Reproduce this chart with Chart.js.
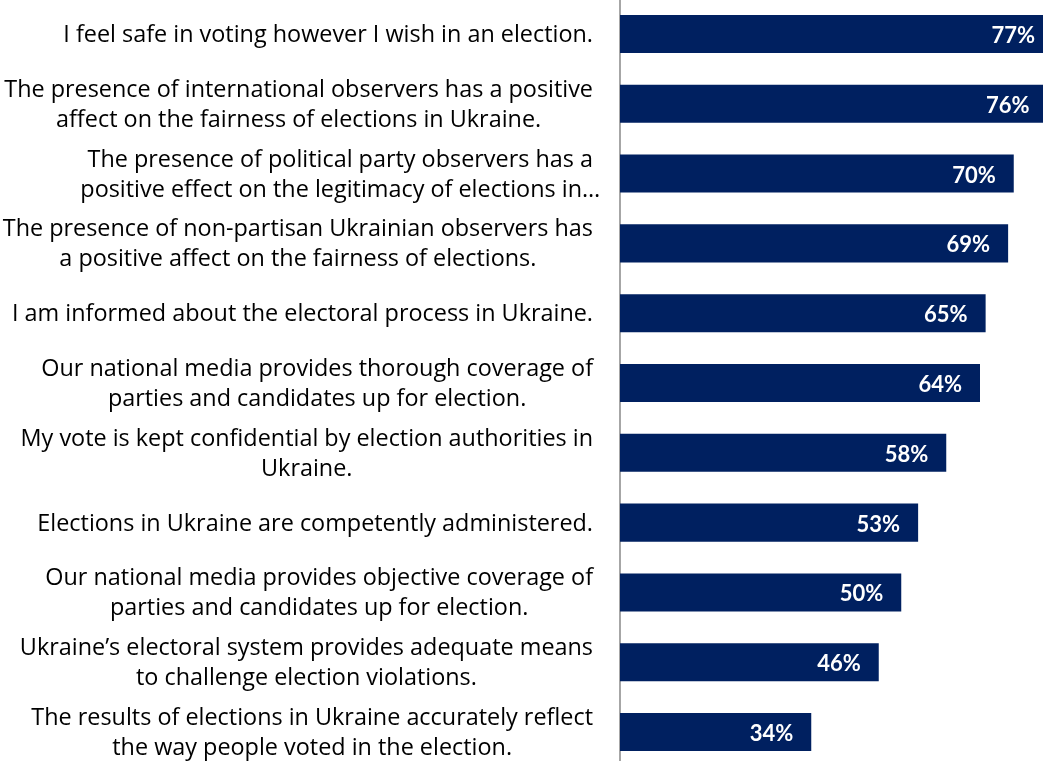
<!DOCTYPE html>
<html>
<head>
<meta charset="utf-8">
<title>Election attitudes</title>
<script src="https://cdn.jsdelivr.net/npm/chart.js@4.4.1/dist/chart.umd.min.js"></script>
<style>
  html, body { margin: 0; padding: 0; background: #fff; overflow: hidden; }
  #wrap { position: relative; width: 1043px; height: 761px; overflow: hidden; }
  #agreeChart { position: absolute; left: 0; top: -1px; }
</style>
</head>
<body>
<div id="wrap"><canvas id="agreeChart" width="1070" height="768"></canvas></div>
<script>
// statements, one array of lines per bar (top to bottom)
const statements = [
    ['I feel safe in voting however I wish in an election.'],
    ['The presence of international observers has a positive', 'affect on the fairness of elections in Ukraine.'],
    ['The presence of political party observers has a', 'positive effect on the legitimacy of elections in…'],
    ['The presence of non-partisan Ukrainian observers has', 'a positive affect on the fairness of elections.'],
    ['I am informed about the electoral process in Ukraine.'],
    ['Our national media provides thorough coverage of', 'parties and candidates up for election.'],
    ['My vote is kept confidential by election authorities in', 'Ukraine.'],
    ['Elections in Ukraine are competently administered.'],
    ['Our national media provides objective coverage of', 'parties and candidates up for election.'],
    ['Ukraine’s electoral system provides adequate means', 'to challenge election violations.'],
    ['The results of elections in Ukraine accurately reflect', 'the way people voted in the election.']
];

// share agreeing, in percent
const agreePct = [77, 76, 70, 69, 65, 64, 58, 53, 50, 46, 34];

const labelFont = '23.4px "Open Sans"';
const valueFont = 'bold 22px Lato';
const labelRight = 593;
const lineHeight = 30;

// statement text: lines centred on each other, block right-aligned to the axis
const statementLabels = {
    id: 'statementLabels',
    afterDraw(chart) {
        const ctx = chart.ctx;
        const yScale = chart.scales.y;
        ctx.save();
        ctx.font = labelFont;
        ctx.fillStyle = '#000000';
        ctx.textAlign = 'center';
        ctx.textBaseline = 'alphabetic';
        statements.forEach((lines, i) => {
            const widest = Math.max(...lines.map(l => ctx.measureText(l.replace(/…$/, '')).width));
            const cx = labelRight - widest / 2;
            const cy = yScale.getPixelForValue(i);
            lines.forEach((line, j) => {
                ctx.fillText(line, cx, cy + 8 + (j - (lines.length - 1) / 2) * lineHeight);
            });
        });
        ctx.restore();
    }
};

// white value at the end of each bar
const barValues = {
    id: 'barValues',
    afterDatasetsDraw(chart) {
        const ctx = chart.ctx;
        const meta = chart.getDatasetMeta(0);
        ctx.save();
        ctx.font = valueFont;
        ctx.fillStyle = '#ffffff';
        ctx.textAlign = 'right';
        ctx.textBaseline = 'alphabetic';
        meta.data.forEach((bar, i) => {
            ctx.fillText(agreePct[i] + '%', bar.x - 18, bar.y + 9);
        });
        ctx.restore();
    }
};

const config = {
    type: 'bar',
    data: {
        labels: statements,
        datasets: [{
            data: agreePct,
            backgroundColor: '#002060',
            borderWidth: 0,
            barPercentage: 0.545,
            categoryPercentage: 1
        }]
    },
    options: {
        indexAxis: 'y',
        responsive: false,
        animation: false,
        layout: { padding: 0 },
        plugins: {
            legend: { display: false },
            tooltip: { enabled: false }
        },
        scales: {
            x: { display: false, min: 0, max: 80 },
            y: {
                grid: { display: false, drawTicks: false },
                border: { color: '#A6A6A6', width: 2 },
                ticks: { display: false },
                afterFit: scale => { scale.width = 620; }
            }
        }
    },
    plugins: [statementLabels, barValues]
};

const agreeChart = new Chart(document.getElementById('agreeChart'), config);
</script>
</body>
</html>
